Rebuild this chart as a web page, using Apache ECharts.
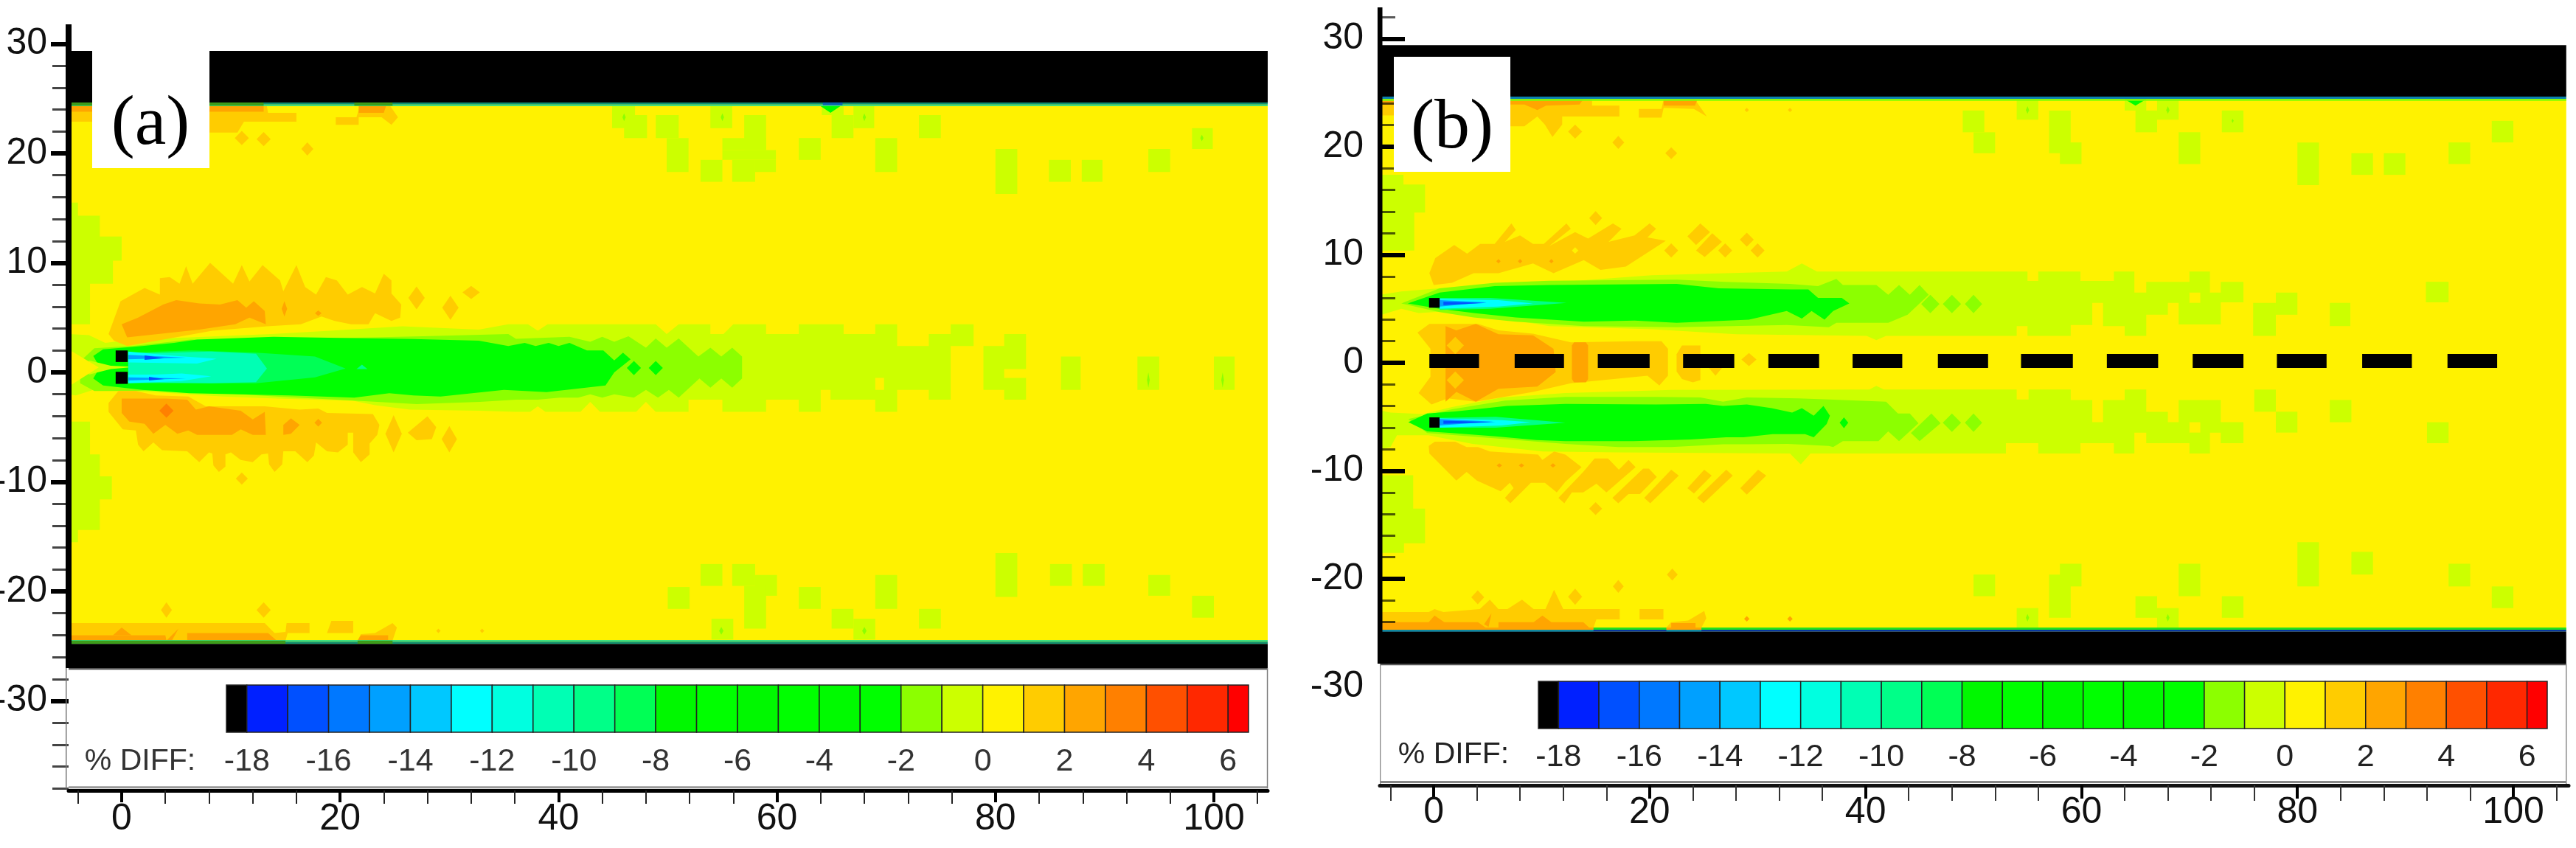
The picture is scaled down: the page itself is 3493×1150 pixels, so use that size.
<!DOCTYPE html>
<html><head><meta charset="utf-8">
<style>html,body{margin:0;padding:0;background:#fff}#c{width:3493px;height:1150px}</style>
<script src="https://cdn.jsdelivr.net/npm/echarts@6/dist/echarts.min.js"></script>
</head><body><div id="c"></div>
<script>
// ---------- tick labels ----------
const xMajorTicks = [0,20,40,60,80,100];
const xMinorTicks = [-4,4,8,12,16,24,28,32,36,44,48,52,56,64,68,72,76,84,88,92,96,104];
const yMajorTicks = [-30,-20,-10,0,10,20,30];
const yMinorTicksA = [-38,-36,-34,-32,-28,-26,-24,-22,-18,-16,-14,-12,-8,-6,-4,-2,2,4,6,8,12,14,16,18,22,24,26,28];
const yMinorTicksB = [-38,-36,-34,-32,-28,-26,-24,-22,-18,-16,-14,-12,-8,-6,-4,-2,2,4,6,8,12,14,16,18,22,24,26,28,32];
const legendTicks = [-18,-16,-14,-12,-10,-8,-6,-4,-2,0,2,4,6];
// ---------- % DIFF colour bands (band lower bound -> colour) ----------
const bandStarts = [-18,-17,-16,-15,-14,-13,-12,-11,-10,-9,-8,-7,-6,-5,-4,-3,-2,-1,0,1,2,3,4,5,6];
const bandColors = ['#0020ff','#0050ff','#0078ff','#00a0ff','#00c8ff','#00ffff','#00ffe0','#00ffb4','#00ff88','#00ff55','#00f800','#00ff00','#00f800','#00ff00','#00fa00','#00ff00','#8cff00','#ccff00','#fff200','#ffcc00','#ffa500','#ff8000','#ff5000','#ff2800','#ff0000'];
const legendEnd = 6.5, legendBlackStart = -18.5;

// ---------- panel (a) field: level, x0,x1, ytop,ybottom ----------
const aBlocks = [
[-1,44.9,47,24.35,22.3],[-1,46,48.1,23.5,21.4],[-1,48.9,51,23.5,21.4],[-1,49.9,51.9,21.4,18.3],[-1,53.9,55.9,24.35,22.3],
[-1,57,59,23.5,20.3],[-1,55,59,21.4,20.3],[-1,55,59.9,20.3,19.4],[-1,53,55,19.4,17.4],[-1,55.9,58,19.4,17.4],[-1,58,59.9,19.4,18.3],
[-1,62,64,21.4,19.4],[-1,64.1,66.1,24.35,23.5],[-1,65,67,23.5,21.4],[-1,67,68.9,24.35,22.3],[-1,69,71,21.4,18.3],[-1,73,75,23.5,21.4],
[-1,80,82,20.4,16.3],[-1,84.9,86.9,19.4,17.4],[-1,87.9,89.8,19.4,17.4],[-1,94,96,20.4,18.3],[-1,98,99.9,22.3,20.4],
[-1,53,55,-17.5,-19.5],[-1,55.9,58,-17.5,-19.5],[-1,58,60,-18.5,-20.4],[-1,57,59,-19.5,-23.4],[-1,50,52,-19.6,-21.6],[-1,62,64,-19.6,-21.6],
[-1,69,71,-18.5,-21.6],[-1,65,67,-21.6,-23.4],[-1,67,69,-22.5,-24.4],[-1,54,56,-22.5,-24.4],[-1,73,75,-21.6,-23.4],[-1,80,82,-16.5,-20.5],
[-1,85,87,-17.5,-19.5],[-1,88,90,-17.5,-19.5],[-1,94,96,-18.5,-20.4],[-1,98,100,-20.4,-22.4],
[-1,86,87.8,1.45,-1.6],[-1,93,95,1.45,-1.6],[-1,100,101.9,1.45,-1.6]
];
// ---------- panel (a) contour outlines: level, then x,y pairs ----------
const aLeftPatchUpper = [-1, -4.86,15.5,-4,15.5,-4,14.3,-2,14.3,-2,12.4,0,12.4,0,10.2,-.8,10.2,-.8,8.1,-2.9,8.1,-2.9,4.4,-4.86,4.4];
const aLeftPatchLower = [-1, -4.86,-4.5,-2.9,-4.5,-2.9,-7.5,-2,-7.5,-2,-9.5,-.9,-9.5,-.9,-11.6,-2,-11.6,-2,-14.4,-4,-14.4,-4,-15.5,-4.86,-15.5];
const aTail1 = [-1, -4.86,3.5,-3,3.4,-1.5,2.7,1,3,6.3,3.2,13.7,3.5,19.1,3.8,25.7,4.2,32.7,3.9,35.4,4.4,36.1,4.4,37.2,4.4,38.1,3.8,39,4.4,48.9,4.4,49.9,3.5,51,4.4,53.9,4.4,53.9,3.5,55.1,3.5,56,4.4,59,4.4,59,3.5,62,3.5,62,4.4,66.1,4.4,66.1,3.5,69,3.5,69,4.4,71,4.4,71,2.4,73.9,2.4,73.9,3.5,75.9,3.5,75.9,4.4,78,4.4,78,2.4,75.9,2.4,75.9,-2.5,73.9,-2.5,73.9,-1.6,71,-1.6,71,-3.6,69,-3.6,69,-2.5,64.9,-2.5,64.9,-1.6,64,-1.6,64,-3.6,62,-3.6,62,-2.5,59,-2.5,59,-3.6,55,-3.6,55,-2.5,51.9,-2.5,51.9,-3.6,48.9,-3.6,48,-2.7,47.1,-3.6,43.8,-3.6,42.9,-2.7,42,-3.6,38.8,-3.6,38.1,-3.1,37.4,-3.6,36.1,-3.6,32.8,-3.5,26.4,-3.4,23.2,-3,21.2,-2.6,14.2,-2.4,9.3,-2.2,3,-1.8,-1,-1.6,-2.6,-1.6,-4.2,-2.1,-4.86,-2];
const aTail2 = [-1, 78.9,.3,78.9,2.4,80.8,2.4,80.8,3.5,82.8,3.5,82.8,.3,80.8,.3,80.8,-.5,82.8,-.5,82.8,-2.5,80.8,-2.5,80.8,-1.6,78.9,-1.6];
const aTailInner = [-2, 1,2.4,6.3,3,13.7,3,27.6,3.3,35.4,3.5,36.1,3.07,41,3.25,42.9,2.8,44,3.25,45.1,2.8,46.4,3.3,48,2.25,48.9,3.1,49.9,2.25,51,3.1,52.8,1.45,53.9,2.25,54.9,1.45,55.9,2.25,56.8,1.45,56.8,-.55,55.9,-1.4,54.9,-.55,53.9,-1.4,52.9,-.55,51,-2.3,50.1,-1.6,49.1,-2.3,48,-1.6,46.9,-2.3,45.1,-2,44,-2.3,42.9,-2,41.8,-2.3,40.1,-2.3,38.1,-2.5,36.1,-2.5,32.8,-2.7,27,-2.9,21.6,-2.6,14.2,-2.2,9.3,-1.9,4.3,-1.6,1,-1.7,-2.5,-1.7,-3.8,-1,-3.8,1,-2.5,2.2];
const aJetGreen = [-5, -2.6,1.5,-1.7,2.1,1.9,2.4,4.8,2.7,6.9,3,13.9,3.25,19.9,3.15,26.7,3.05,32.7,2.9,35.4,2.4,36.9,2.7,37.9,2.4,39.1,2.7,40,2.4,41,2.7,42.6,2,44.1,2,45.1,1.1,45.9,1.8,46.6,1.2,45.1,0,44.3,-1.2,38.9,-1.8,35,-1.6,29.2,-2.2,26.7,-2.1,24.5,-1.9,21.3,-2.3,15.4,-2.1,6.2,-1.9,1.9,-1.6,-1.7,-1.2,-2.6,-.55,-2,.45];
const aNoseLime = [-1, -3,1.1,-1,.6,1.3,.5,-1,.3,-3,-.2];
const aNoseYellow = [0, -4.86,2.1,-2.1,.45,-4.86,-1.3];
const aCore9 = [-9, .6,1.8,6.4,2,12.3,1.8,17.7,1.45,20.5,.35,17.7,-.45,12.3,-1,6.4,-1,.6,-1];
const aCore11 = [-11, .6,1.7,8.2,1.9,12.3,1.7,13.3,.35,12.3,-.9,8.2,-1,.6,-.9];
const aCyanUpper = [-13, .6,1.9,5,1.5,8.7,1.25,6.9,.8,.6,.9];
const aCyanLower = [-13, .6,-.2,3,-.2,5.5,-.1,8.2,-.35,5.5,-.8,.6,-1];
const aBlueUpper = [-15, .6,1.6,5.9,1.35,.6,1.2];
const aBlueLower = [-15, .6,-.45,5.9,-.55,.6,-.75];
const aDeepUpper = [-17, 2.1,1.55,3.9,1.3,2.1,1.15];
const aDeepLower = [-17, 2.5,-.4,3.9,-.6,2.5,-.75];
const aTealSpot = [-10, 22,.7,22.5,.3,21.5,.3];
const aOrangeUpper = [1, -1.2,3.5,-.1,6.5,2.1,7.7,3.5,7.1,3.5,8.6,4.4,8.7,5.3,8.1,5.9,9.7,6.5,8.1,8.1,10,10.2,8.1,11,9.8,11.7,8.3,12.9,9.8,14.5,8.4,14.8,7.4,16,9.8,16.8,7.8,17.8,7.1,18.7,8.7,19.7,8.4,20.7,7.1,22,7.8,23.2,7.2,24,9,24.7,8.4,24.7,7.2,25.6,6.2,25.5,5,24.7,4.7,23.2,5.4,22.6,4.4,21,4.4,19.5,4.7,18.3,5.1,16.4,4.4,13.3,4.2,8.3,3.8,5.5,3.3,.5,2.4,-.7,2.9];
const aOrangeUpper2 = [2, 0,4.4,1.5,5,3.8,6.2,5,6.6,7.1,6.3,9,6.2,10.6,6.6,11.4,5.9,12.1,6.5,13.1,5.6,13.2,4.4,11.7,5,10.4,4.4,7.1,3.9,.5,3.2];
const aOrangeLower = [1, -1.2,-2.8,-.3,-1.7,1.3,-1.7,3.1,-2.1,6.1,-2.2,7.7,-3.1,13.1,-3.1,16.3,-3.4,18,-3.3,18.8,-3.7,23,-3.8,23.6,-4.8,23.4,-5.7,22.7,-6.5,22.7,-7.5,21.9,-8.2,21.2,-7.3,21.2,-5.5,20.7,-5.5,20.7,-6.6,19.8,-7.3,18.8,-7.2,17.8,-6.4,17.6,-7.6,17,-8.2,15.9,-7.2,14.8,-7.2,14.7,-8.4,14,-9.1,13.5,-8.4,13.4,-7.4,12.8,-7.5,12,-8.2,10.9,-8,10,-7.3,9.5,-7.5,9.5,-8.6,8.9,-9.1,8.4,-8.5,8.3,-7.4,8,-7.3,7.1,-8.2,6,-7.2,3.7,-7.1,2.9,-6.4,2,-7.2,1.5,-6.6,1.3,-5.3,.1,-5.2,-1.2,-3.6];
const aOrangeLower2 = [2, 0,-2.4,4,-2.4,6,-2.5,6.8,-3.4,8,-3.1,10.9,-3.5,12,-4.3,13.1,-3.6,13.2,-5.7,12,-5.7,10.9,-5.2,10.1,-5.7,6.9,-5.7,6.1,-5.3,5.1,-5.6,4,-4.8,2.9,-5.6,2.1,-4.7,.7,-4.5,0,-3.7];
const aOrangeBlob = [2, 14.8,-4.8,15.5,-4.2,16.3,-4.8,15.5,-5.6,14.8,-5.7];
const aOrangeBlob1 = [1, 26.2,-5.5,28,-4,28.8,-5,28.4,-6.1,27,-6.2];
const aWallBottom1 = [1, -4.86,-22.9,13.1,-22.9,14,-23.8,15,-23.7,15.1,-22.9,17.2,-22.9,17.2,-23.8,15.2,-23.8,15,-24.5,-4.86,-24.5];
const aWallBottom2 = [1, 19.2,-22.7,21.2,-22.7,21.2,-23.8,18.8,-23.8];
const aWallBottom3 = [1, 21.6,-24.5,21.9,-23.9,23.2,-23.8,24.8,-22.9,25.2,-23.3,24.8,-24.5];
const aWallBottom4 = [2, -4.86,-24,4,-24,4.1,-24.5,-4.86,-24.5];
const aWallBottom5 = [2, 6,-23.8,13.4,-23.8,14.2,-24.5,6,-24.5];
const aWallBottom6 = [2, 21.9,-24,24.4,-24,24.4,-24.5,21.6,-24.5];
const aWallBottom7 = [2, 4.1,-24.5,5.2,-23.4,4.6,-24.5];
const aWallBottom8 = [2, -.8,-24,0,-23.3,.9,-24];
const aWallTop1 = [1, -4.86,24.3,13.3,24.3,13.4,23.7,16,23.7,16,22.9,11.2,22.9,10.6,21.9,-1,21.9,-1,22.9,-4.86,22.9];
const aWallTop2 = [1, 19.6,23.3,21.5,23.3,21.8,24.3,24.6,24.3,25.3,23.3,24.7,22.6,23.8,23.3,21.7,23.3,21.7,22.6,19.6,22.6];
const aWallTop3 = [2, -4.86,24.3,13,24.3,13,23.8,-4.86,23.8];
const aWallTop4 = [2, 21.7,24.3,24.2,24.3,24,23.7,21.7,23.7];
const aNotch = [-5, 64,24.3,65.8,24.3,64.9,23.7];
// diamonds: level, cx,cy, halfWidth,halfHeight
const aDiamonds = [
[1,27,6.8,.75,1.05],[1,30.1,5.9,.75,1.1],[1,32,7.3,.8,.6],[2,14.9,5.8,.25,.7],[2,18,5.4,.3,.25],
[3,4.1,-3.5,.65,.65],[2,18,-4.6,.35,.35],[1,24.9,-5.6,.75,1.7],[1,30,-6.1,.7,1.2],[1,11,-9.7,.55,.55],
[1,4.1,-21.7,.5,.7],[1,13,-21.7,.65,.7],[1,29,-23.6,.2,.2],[1,33,-23.6,.2,.2],[1,11,21.4,.65,.65],[1,13,21.3,.65,.65],[1,17,20.4,.55,.6],
[-5,46.9,.4,.65,.65],[-5,48.9,.4,.65,.65],[-2,46,23.3,.15,.35],[-2,55,23.3,.15,.35],[-2,68,23.3,.15,.35],[-2,98.9,21.4,.15,.3],
[-2,54.9,-23.6,.2,.35],[-2,68,-23.6,.2,.35],[-2,94,-.7,.12,.7],[-2,100.8,-.7,.12,.7]
];
const aHoles = [[0,69,69.8,-.5,-1.6]];
const aNozzles = [[-.55,.55,2,.95],[-.55,.55,.05,-1.05]];
// ---------- panel (b) field ----------
const bBlocks = [
[-1,49,51,23.35,21.34],[-1,50,52,21.34,19.4],[-1,54,56,24.37,22.5],[-1,57,59,23.35,19.4],[-1,58,60,20.4,18.4],[-1,64,66,24.37,23.35],
[-1,65,67,23.35,21.34],[-1,67,69,24.37,22.5],[-1,69,71,21.34,18.4],[-1,73,75,23.35,21.34],[-1,80,82,20.4,16.45],[-1,85,87,19.4,17.4],
[-1,88,90,19.4,17.4],[-1,94,96,20.4,18.4],[-1,98,100,22.4,20.4],
[-1,50,52,-19.6,-21.6],[-1,57,59,-19.6,-23.6],[-1,58,60,-18.6,-20.7],[-1,54,56,-22.7,-24.5],[-1,65,67,-21.6,-23.6],[-1,67,69,-22.7,-24.5],
[-1,69,71,-18.6,-21.6],[-1,73,75,-21.6,-23.6],[-1,80,82,-16.6,-20.7],[-1,85,87,-17.5,-19.6],[-1,94,96,-18.6,-20.7],[-1,98,100,-20.7,-22.7],
[-1,78,80,6.5,4.45],[-1,75.9,78,5.55,2.5],[-1,83,84.9,5.55,3.4],[-1,91.9,94,7.5,5.6],
[-1,76,78,-2.48,-4.53],[-1,78,80,-4.53,-6.46],[-1,83,85,-3.44,-5.5],[-1,92,94,-5.5,-7.44]
];
const bLeftPatchUpper = [-1, -4.98,17.4,-2.8,17.4,-2.8,16.5,-.8,16.5,-.8,13.9,-1.8,13.9,-1.8,10.4,-4.98,10.4];
const bLeftPatchLower = [-1, -4.98,-10.4,-1.9,-10.4,-1.9,-13.5,-.8,-13.5,-.8,-16.7,-2.75,-16.7,-2.75,-17.6,-4.98,-17.6];
const bTailUpper = [-1, -4.98,6.3,-3,6.6,.5,6.9,4.5,7,10.7,7.4,20.2,8.1,32.7,8.45,34.1,9.2,35.5,8.45,55,8.44,55,7.57,56,7.57,56,8.44,59.9,8.44,59.9,7.57,63,7.57,63,8.44,64.9,8.44,64.9,6.5,66,6.5,66,7.5,70,7.5,70,8.44,71.9,8.44,71.9,6.5,72.9,6.5,72.9,7.5,75,7.5,75,5.6,72.9,5.6,72.9,3.55,69,3.55,69,5.55,68,5.55,68,4.45,66,4.45,66,2.5,64,2.5,64,3.4,62,3.4,62,5.55,61,5.55,61,3.5,59,3.5,59,2.5,55,2.5,55,3.4,54,3.4,54,2.5,41.9,2.5,41,2.1,40.1,2.5,28,2.65,20.2,3.1,10.7,3.4,5.3,4.3,1.7,4.8,-1.4,4.6,-3,5,-4.98,4.4];
const bTailLower = [-1, -4.98,-4.4,-4,-4.6,-1,-4.75,1.7,-4.1,6.3,-3.2,12.2,-2.8,19.3,-2.6,22,-2.5,40.35,-2.48,41,-2.14,41.7,-2.48,54,-2.48,54,-3.39,55.1,-3.39,55.1,-2.48,59,-2.48,59,-3.44,61,-3.44,61,-5.5,62,-5.5,62,-3.44,64,-3.44,64,-2.48,66,-2.48,66,-4.53,68,-4.53,68,-5.5,69,-5.5,69,-3.44,72.9,-3.44,72.9,-5.5,75,-5.5,75,-7.44,72.9,-7.44,72.9,-6.46,71.9,-6.46,71.9,-8.4,70,-8.4,70,-7.44,66,-7.44,66,-6.46,64.9,-6.46,64.9,-8.4,63,-8.4,63,-7.44,59.9,-7.44,59.9,-8.4,56,-8.4,56,-7.44,53,-7.44,53,-8.4,34.9,-8.4,34,-9.4,33,-8.4,17.1,-8.3,10.1,-8.2,3.6,-7.5,-.5,-6.7,-3.4,-6.7,-4,-7.8,-4.98,-8];
const bInnerUpper = [-2, -3,5.5,.55,6.9,5.65,7.4,10.7,7.6,22.5,7.7,27,7.5,33,7.3,35.6,7.1,37.3,7.76,37.9,7.2,41,7.2,42.1,6.3,43.1,7.2,44.1,6.3,45,7.2,45.85,6.3,43.9,4.45,42.1,3.7,37.3,3.7,36.6,3.3,32.7,3.5,22.5,3.3,13.9,3.4,7.6,3.8,3.7,4.2,.55,4.7];
const bInnerLower = [-2, -2.35,-5.2,1.7,-4.3,6.6,-3.5,12.2,-3.15,20.6,-3.15,24.7,-3.2,26.8,-3.6,29,-3.2,33.8,-3.3,36.6,-3.4,41.9,-3.6,43,-4.7,44.1,-4.7,44.9,-5.6,43.1,-7.25,42.1,-6.35,41.2,-7.25,37.9,-7.25,37,-7.8,36.6,-7.7,32.8,-7.5,29,-7.55,26.8,-7.55,22,-7.8,17.1,-7.8,12.2,-7.5,5.75,-7,-.6,-6.5];
const bDiamondLong = [-2, 46.1,-4.7,46.95,-5.6,45,-7.25,44.2,-6.5];
const bJetUpper = [-5, -2.4,5.5,.55,6.5,5.65,7.1,10.7,7.2,22.5,7.3,26.4,6.9,33.1,6.8,34.7,6.8,35.6,6,37.8,6,38.5,5.5,37,4.8,36.2,4,35,4.8,34.1,4.1,32.7,4.8,29.2,4,22.5,3.7,18.6,3.9,13.9,3.8,7.6,4.2,3.7,4.6,.55,5];
const bJetLower = [-5, -2.35,-5.5,-.6,-4.7,1.97,-4.5,6.8,-4,12.2,-3.8,20.6,-3.85,25.2,-3.8,26.8,-4,29,-3.85,31.3,-4.2,33.2,-4.6,34.1,-4.2,35.2,-4.9,36.1,-4,36.7,-4.9,36.4,-5.67,35.2,-6.9,34.4,-6.6,31.4,-6.6,28.7,-6.9,27.1,-6.9,23.8,-7.1,18.5,-7.25,12.2,-7.25,9.5,-7.15,5.75,-6.8,1.7,-6.5,-.6,-6.35];
const bCoreU10 = [-10, .55,6,5.25,6,12.3,5.55,5.25,5,.55,4.9];
const bCoreU13 = [-13, .55,5.9,6,5.8,9.2,5.5,6,5.2,.55,5];
const bCoreU15 = [-15, .55,5.8,4.9,5.6,.55,5.2];
const bCoreU17 = [-17, .9,5.65,4.9,5.55,.9,5.35];
const bCoreL10 = [-10, .54,-5.1,5.75,-5,12.2,-5.55,5.75,-6,.54,-6];
const bCoreL13 = [-13, .54,-5.15,6.3,-5.3,9,-5.5,6.3,-5.8,.54,-6];
const bCoreL15 = [-15, .54,-5.2,5.5,-5.45,.54,-5.8];
const bCoreL17 = [-17, .9,-5.35,5.75,-5.5,.9,-5.65];
const bCentre1 = [1, -1.5,2.8,-.4,3.6,4.1,3.6,6,3,9.2,2.7,12.7,1.9,18.6,2,21.1,2,21.7,1.3,21.7,-1.2,20.9,-2.1,19.8,-1.2,12.7,-1.9,9.2,-2.7,3.9,-3.6,1.3,-3.3,-.2,-3.85,-1.4,-2.8,-.3,-1.3,-.3,1.3];
const bCentre1b = [1, 22.5,.8,23,1.6,24.7,1.6,24.7,-1.6,24,-1.8,23,-1.5,22.5,-.8];
const bCentre2 = [2, 1.1,3.4,2.1,3,3.9,3.6,6,2.65,9.2,2.55,11.1,1.3,11.3,-.85,9.6,-2.2,6,-2.4,3.9,-3.6,2.1,-2.7,1.1,-3.6];
const bCentreBar = [2, 13,1.9,14.1,1.9,14.3,1.6,14.3,-1.5,14.1,-1.8,13,-1.8,12.8,-1.5,12.8,1.6];
const bOrangeUp = [1, -.4,8.3,.15,9.7,1.9,10.9,3.1,10.1,4.3,11,5.65,11,7.2,12.9,7.6,12.3,6.6,11.2,8,11.8,9.2,11,10.2,11,12.3,12.9,12.7,12.4,10.7,10.8,13.1,12.1,14.3,11.5,16.6,12.9,17.4,12.4,16.2,11.2,18.6,11.8,20,12.9,20.6,12.4,19.8,11.6,21.5,11.3,17.8,8.9,15.45,8.6,13.9,9.5,11.1,8.3,9.2,9.2,6,8.3,3.7,8.3,1.7,7.4,0,7.2];
const bUpDiag1 = [1, 24.7,12.9,25.6,12.1,24.3,10.9,23.5,11.7];
const bUpDiag2 = [1, 25.8,12,26.7,11.2,25.1,9.8,24.3,10.4];
const bOrangeLow = [1, -.46,-7.7,.1,-7.3,2,-7.3,3.05,-7.8,4.1,-7.8,5.2,-8.2,9.67,-8.5,10.07,-9,11.15,-8.2,12.2,-8.5,13.7,-9.65,12.2,-11,11.4,-12,10.3,-11.1,9,-11.1,7.1,-13,6.6,-12.5,7.4,-11.6,7.05,-11.1,6.2,-11.9,4,-10.9,3.05,-10.1,2.1,-10.9,-.4,-8.4];
const bLowDiag1 = [1, 14.9,-8.85,16.15,-8.85,17.15,-9.9,18.05,-9,18.7,-9.65,16,-12,15.07,-11.2,13.85,-12,12.8,-12,12.1,-13,11.55,-12.5,13.85,-10.1];
const bLowDiag2 = [1, 19.4,-9.8,19.93,-9.8,20.66,-10.56,19.1,-12.15,18.04,-12.15,17.1,-13,16.55,-12.5];
const bLowDiag3 = [1, 22,-9.9,22.7,-10.44,20.06,-13,19.5,-12.5];
const bLowDiag4 = [1, 25.06,-9.9,25.75,-10.44,24.1,-12.1,23.5,-11.6];
const bLowDiag5 = [1, 27.1,-9.9,27.7,-10.44,25,-13,24.4,-12.5];
const bLowDiag6 = [1, 30.05,-9.9,30.8,-10.44,29,-12.2,28.4,-11.6];
const bWallTop1 = [1, -4.98,24.45,14.67,24.45,14.67,23.8,17.2,23.8,17.2,22.8,11.9,22.8,11.9,22.04,11,20.9,10.3,22.04,9.6,22.8,8.4,21.9,-3,21.9,-3,22.9,-4.98,22.9];
const bWallTop2 = [1, 19,23.5,21.1,23.5,21.3,24.4,24.1,24.5,25.3,22.8,24.1,23.5,21.3,23.6,21.1,22.7,19,22.7];
const bWallTop3 = [2, -4.98,24.45,13.9,24.45,13.5,23.9,10.4,23.8,9.6,23.4,8.4,23.9,-4.98,23.9];
const bWallTop4 = [2, 21.3,24.3,24.4,24.3,24.2,23.8,21.3,23.8];
const bWallBottom1 = [1, -4.98,-23.07,-.46,-23.07,.08,-22.8,.9,-23.07,4.27,-22.8,5.2,-21.93,6,-22.8,6.83,-22.8,8.18,-21.93,9.26,-22.8,10.35,-22.8,11.15,-21,12,-22.8,17.23,-22.8,17.23,-23.75,15.07,-23.75,14.8,-24.5,-4.98,-24.5];
const bWallBottom2 = [1, 19.07,-22.8,21.28,-22.8,21.28,-23.75,19.07,-23.75];
const bWallBottom3 = [1, 21.55,-24.5,22,-24,23.57,-23.86,25.06,-22.96,25.25,-23.65,24.8,-24.5];
const bWallBottom4 = [2, -4.98,-24,-.46,-24,.08,-23.4,.98,-24,4.1,-24,4.8,-24.5,-4.98,-24.5];
const bWallBottom5 = [2, 6,-24,9.26,-24,10.07,-23.4,10.9,-24,13.85,-24,14.4,-24.5,6,-24.5];
const bWallBottom6 = [2, 22,-24.1,24.25,-24.1,24.25,-24.5,22,-24.5];
const bWallBottom7 = [2, 4.67,-24.2,5.35,-23.2,5.08,-24.45];
const bNotch = [-5, 64,24.4,66,24.4,65,23.8];
const bDiamonds = [
[2,2,1.6,.01,.01],[1,2,1.6,.8,.8],[1,2,-1.6,.8,.8],[1,29.2,.3,.7,.6],[1,26.1,-.3,.75,.9],[2,6,9.4,.2,.2],[2,8,9.4,.2,.2],[2,10.9,9.4,.2,.2],
[1,22,10.4,.65,.65],[1,27,10.4,.65,.65],[1,29,11.4,.65,.65],[1,30,10.4,.65,.65],[1,15,13.4,.6,.65],[0,13.1,10.4,.3,.3],
[1,15,-13.5,.6,.6],[2,6.08,-9.5,.25,.2],[2,8.13,-9.5,.25,.2],[2,11.05,-9.5,.25,.2],
[1,13.1,21.4,.65,.65],[1,17.1,20.4,.55,.6],[1,22,19.4,.55,.55],[1,29,23.4,.2,.2],[1,33,23.4,.2,.2],
[1,4.08,-21.7,.6,.65],[1,13.1,-21.65,.65,.75],[1,17.1,-20.7,.5,.6],[1,22.1,-19.6,.5,.55],[2,29,-23.7,.25,.25],[2,33,-23.7,.25,.25],
[-2,46,5.44,.85,.85],[-2,48,5.44,.85,.85],[-2,50,5.44,.8,.85],[-2,48,-5.55,.85,.85],[-2,50,-5.55,.8,.85],[-5,38,-5.55,.4,.5],
[-2,55,23.4,.15,.35],[-2,68,23.4,.15,.35],[-2,74,22.4,.1,.2],[-2,55,-23.6,.15,.35],[-2,68,-23.6,.15,.35]
];
const bHoles = [[0,70,71,6.5,5.55],[0,70,71,-5.5,-6.46]];
const bNozzles = [[-.43,.55,6,5.1],[-.4,.54,-5.05,-6]];
const bDashSpans = [[-.4,4.2],[7.5,12.07],[15.2,20],[23.1,27.84],[31,35.7],[38.8,43.4],[46.7,51.35],[54.4,59.2],[62.35,67.1],[70.3,75],[78.1,82.7],[86,90.6],[93.9,98.5]];
const bDashY = [.82,-.48];

// ---------- geometry of each panel's frame in axis units ----------
const aExtent = {xMin:-4.86,xMax:104.93,yMin:-38.18,yMax:31.78,wallTop:[24.65,29.36],wallBot:[-24.8,-27]};
const bExtent = {xMin:-4.99,xMax:105.12,yMin:-39.11,yMax:32.9,wallTop:[24.64,29.4],wallBot:[-24.9,-27.85],xEnd:104.9};

const levelColor = l => bandColors[bandStarts.indexOf(l)];
const diamond = d => [d[0], d[1],d[2]+d[4], d[1]+d[3],d[2], d[1],d[2]-d[4], d[1]-d[3],d[2]];
const rectPoly = (c,x0,x1,y0,y1) => ({c, p:[[x0,y0],[x1,y0],[x1,y1],[x0,y1]]});
const fromLevelPoly = a => { const p=[]; for(let i=1;i<a.length;i+=2)p.push([a[i],a[i+1]]); return {c:levelColor(a[0]),p}; };
const fromBlock = b => rectPoly(levelColor(b[0]),b[1],b[2],b[3],b[4]);

const aField = [
  rectPoly(levelColor(0),aExtent.xMin,aExtent.xMax,aExtent.wallBot[0],aExtent.wallTop[0]),
  ...aBlocks.map(fromBlock),
  ...[aLeftPatchUpper,aLeftPatchLower,aTail1,aTail2,aTailInner,aOrangeUpper,aOrangeUpper2,aOrangeLower,aOrangeLower2,aOrangeBlob,aOrangeBlob1,
      aWallBottom1,aWallBottom2,aWallBottom3,aWallBottom4,aWallBottom5,aWallBottom6,aWallBottom7,aWallBottom8,aWallTop1,aWallTop2,aWallTop3,aWallTop4,aNotch,
      aJetGreen,aNoseLime,aNoseYellow,aCore9,aCore11,aCyanUpper,aCyanLower,aBlueUpper,aBlueLower,aDeepUpper,aDeepLower,aTealSpot].map(fromLevelPoly),
  ...aDiamonds.map(diamond).map(fromLevelPoly),
  ...aHoles.map(fromBlock)
];
const bField = [
  rectPoly(levelColor(0),bExtent.xMin,bExtent.xEnd,bExtent.wallBot[0],bExtent.wallTop[0]),
  ...bBlocks.map(fromBlock),
  ...[bLeftPatchUpper,bLeftPatchLower,bTailUpper,bTailLower,bInnerUpper,bInnerLower,bDiamondLong,bCentre1,bCentre1b,bCentre2,bCentreBar,bOrangeUp,bUpDiag1,bUpDiag2,
      bOrangeLow,bLowDiag1,bLowDiag2,bLowDiag3,bLowDiag4,bLowDiag5,bLowDiag6,bWallTop1,bWallTop2,bWallTop3,bWallTop4,bWallBottom1,bWallBottom2,bWallBottom3,bWallBottom4,bWallBottom5,bWallBottom6,bWallBottom7,bNotch,
      bJetUpper,bJetLower,bCoreU10,bCoreU13,bCoreU15,bCoreU17,bCoreL10,bCoreL13,bCoreL15,bCoreL17].map(fromLevelPoly),
  ...bDiamonds.map(diamond).map(fromLevelPoly),
  ...bHoles.map(fromBlock)
];
const aCover = [
  rectPoly('#109070',aExtent.xMin,aExtent.xMax,24.65,24.45), rectPoly('#40e080',aExtent.xMin,aExtent.xMax,24.45,24.3),
  rectPoly('#3d9c1a',aExtent.xMin,13,24.65,24.35), rectPoly('#3d9c1a',21.3,24.8,24.65,24.35),
  rectPoly('#40e080',aExtent.xMin,aExtent.xMax,-24.45,-24.6), rectPoly('#109070',aExtent.xMin,aExtent.xMax,-24.6,-24.8),
  rectPoly('#3d9c1a',aExtent.xMin,15,-24.5,-24.8), rectPoly('#3d9c1a',21.6,24.8,-24.5,-24.8),
  rectPoly('#000',aExtent.xMin,aExtent.xMax,aExtent.wallTop[0],aExtent.wallTop[1]),
  rectPoly('#000',aExtent.xMin,aExtent.xMax,aExtent.wallBot[0],aExtent.wallBot[1]),
  rectPoly('#0a5fb0',64.2,66,24.65,24.4),
  rectPoly('#555',aExtent.xMin,aExtent.xMax,-27,-27.15),
  rectPoly('#999',aExtent.xMin,aExtent.xMax,-37.8,-38),
  rectPoly('#777',104.85,104.95,-27,-38),
  rectPoly('#777',-5.13,-5.03,-27,-38),
  rectPoly('#000',-5.13,-4.59,-27,31.78),
  ...aNozzles.map(n=>rectPoly('#000',n[0],n[1],n[2],n[3]))
];
const bCover = [
  rectPoly('#0a80b0',bExtent.xMin,bExtent.xEnd,24.64,24.42), rectPoly('#7fff00',bExtent.xMin,bExtent.xEnd,24.42,24.25),
  rectPoly('#20e020',bExtent.xMin,bExtent.xEnd,-24.5,-24.7), rectPoly('#0838a0',bExtent.xMin,bExtent.xEnd,-24.7,-24.9),
  rectPoly('#ffa500',bExtent.xMin,14.8,-24.5,-24.7), rectPoly('#1088a0',bExtent.xMin,14.8,-24.7,-24.9),
  rectPoly('#ffa500',21.55,24.8,-24.5,-24.7), rectPoly('#1088a0',21.55,24.8,-24.7,-24.9),
  rectPoly('#000',bExtent.xMin,bExtent.xEnd,bExtent.wallTop[0],bExtent.wallTop[1]),
  rectPoly('#000',bExtent.xMin,bExtent.xEnd,bExtent.wallBot[0],bExtent.wallBot[1]),
  rectPoly('#fff',bExtent.xMin,bExtent.xEnd,bExtent.wallBot[1],bExtent.yMin),
  rectPoly('#555',bExtent.xMin,bExtent.xEnd,-27.85,-28),
  rectPoly('#888',bExtent.xMin,bExtent.xEnd,-38.7,-38.9),
  rectPoly('#888',104.85,104.95,-27.85,-39),
  rectPoly('#888',bExtent.xMin,-4.9,-27.85,-39),
  rectPoly('#000',-5.2,-4.75,-27.85,32.9),
  ...bNozzles.map(n=>rectPoly('#000',n[0],n[1],n[2],n[3])),
  ...bDashSpans.map(d=>rectPoly('#000',d[0],d[1],bDashY[0],bDashY[1]))
];
const legendCells = [
  {c:'#000',x0:legendBlackStart,x1:bandStarts[0]},
  ...bandStarts.map((s,i)=>({c:bandColors[i],x0:s,x1:i<bandStarts.length-1?bandStarts[i+1]:legendEnd}))
];

const polySeries = (shapes,xi,yi,z) => ({
  type:'custom',coordinateSystem:'cartesian2d',xAxisIndex:xi,yAxisIndex:yi,z,clip:false,silent:true,animation:false,
  data:shapes.map((s,i)=>[s.p[0][0],s.p[0][1]]),
  renderItem:(params,api)=>{
    const s=shapes[params.dataIndex];
    return {type:'polygon',shape:{points:s.p.map(q=>api.coord(q))},style:{fill:s.c}};
  }
});
const legendSeries = (xi,yi) => ({
  type:'custom',coordinateSystem:'cartesian2d',xAxisIndex:xi,yAxisIndex:yi,z:7,clip:false,silent:true,animation:false,
  data:legendCells.map(c=>[c.x0,0]),
  renderItem:(params,api)=>{
    const c=legendCells[params.dataIndex];
    const a=api.coord([c.x0,1]),b=api.coord([c.x1,0]);
    return {type:'rect',shape:{x:a[0],y:a[1],width:b[0]-a[0],height:b[1]-a[1]},style:{fill:c.c,stroke:'#222',lineWidth:1.5}};
  }
});
const font = 'Liberation Sans';
const xAx = (grid,ext,opts) => ({type:'value',gridIndex:grid,min:ext.xMin,max:ext.xMax,position:'bottom',z:6,splitLine:{show:false},...opts});
const yAx = (grid,ext,opts) => ({type:'value',gridIndex:grid,min:ext.yMin,max:ext.yMax,position:'left',splitLine:{show:false},axisLine:{show:false,onZero:false},...opts});
const labelStyle = {color:'#111',fontSize:50,fontFamily:font};
const option = {
  backgroundColor:'#fff',animation:false,
  grid:[
    {left:93,top:33,width:1626,height:1039,outerBoundsMode:'none'},
    {left:1871,top:10,width:1612,height:1055,outerBoundsMode:'none'},
    {left:307,top:929,width:1386,height:64,outerBoundsMode:'none'},
    {left:2086,top:924,width:1368,height:64,outerBoundsMode:'none'}
  ],
  xAxis:[
    xAx(0,aExtent,{axisLine:{show:true,onZero:false,lineStyle:{color:'#000',width:5}},axisTick:{show:true,length:16,customValues:xMajorTicks,lineStyle:{color:'#000',width:4}},axisLabel:{show:true,customValues:xMajorTicks,margin:14,...labelStyle}}),
    xAx(0,aExtent,{axisLine:{show:false,onZero:false},axisTick:{show:true,length:18,customValues:xMinorTicks,lineStyle:{color:'#222',width:2}},axisLabel:{show:false}}),
    xAx(1,bExtent,{axisLine:{show:true,onZero:false,lineStyle:{color:'#111',width:5}},axisTick:{show:true,length:18,customValues:xMajorTicks,lineStyle:{color:'#000',width:4}},axisLabel:{show:true,customValues:xMajorTicks,margin:12,...labelStyle}}),
    xAx(1,bExtent,{axisLine:{show:false,onZero:false},axisTick:{show:true,length:21,customValues:xMinorTicks,lineStyle:{color:'#333',width:2}},axisLabel:{show:false}}),
    {type:'value',gridIndex:2,min:legendBlackStart,max:legendEnd,position:'bottom',z:8,splitLine:{show:false},axisLine:{show:false,onZero:false},axisTick:{show:false},axisLabel:{show:true,customValues:legendTicks,margin:19,color:'#333',fontSize:43,fontFamily:font}},
    {type:'value',gridIndex:3,min:legendBlackStart,max:legendEnd,position:'bottom',z:8,splitLine:{show:false},axisLine:{show:false,onZero:false},axisTick:{show:false},axisLabel:{show:true,customValues:legendTicks,margin:18,color:'#222',fontSize:43,fontFamily:font}}
  ],
  yAxis:[
    yAx(0,aExtent,{axisTick:{show:true,length:24,customValues:yMajorTicks,lineStyle:{color:'#000',width:6}},axisLabel:{show:true,customValues:yMajorTicks,margin:29,...labelStyle}}),
    yAx(0,aExtent,{axisTick:{show:true,length:22,customValues:yMinorTicksA,lineStyle:{color:'#444',width:3}},axisLabel:{show:false}}),
    yAx(1,bExtent,{z:3,axisTick:{show:true,inside:true,length:34,customValues:yMajorTicks,lineStyle:{color:'#000',width:6}},axisLabel:{show:true,customValues:yMajorTicks,margin:22,...labelStyle}}),
    yAx(1,bExtent,{z:3,axisTick:{show:true,inside:true,length:21,customValues:yMinorTicksB,lineStyle:{color:'rgba(0,0,0,0.65)',width:3}},axisLabel:{show:false}}),
    {type:'value',gridIndex:2,min:0,max:1,show:false},
    {type:'value',gridIndex:3,min:0,max:1,show:false}
  ],
  series:[
    polySeries(aField,0,0,2),polySeries(aCover,0,0,5),
    polySeries(bField,2,2,2),polySeries(bCover,2,2,5),
    legendSeries(4,4),legendSeries(5,5)
  ],
  graphic:[
    {type:'rect',z:100,shape:{x:125,y:69,width:159,height:159},style:{fill:'#fff'}},
    {type:'rect',z:100,shape:{x:1890,y:77,width:158,height:156},style:{fill:'#fff'}},
    {type:'text',z:101,x:204,y:170,style:{text:'(a)',font:'96px "Liberation Serif"',fill:'#000',textAlign:'center',textVerticalAlign:'middle'}},
    {type:'text',z:101,x:1969,y:175,style:{text:'(b)',font:'96px "Liberation Serif"',fill:'#000',textAlign:'center',textVerticalAlign:'middle'}},
    {type:'text',z:101,x:190,y:1033,style:{text:'% DIFF:',font:'41px "Liberation Sans"',fill:'#333',textAlign:'center',textVerticalAlign:'middle'}},
    {type:'text',z:101,x:1971,y:1024,style:{text:'% DIFF:',font:'41px "Liberation Sans"',fill:'#222',textAlign:'center',textVerticalAlign:'middle'}}
  ]
};
const chart = echarts.init(document.getElementById('c'),null,{renderer:'canvas'});
chart.setOption(option);
</script></body></html>
